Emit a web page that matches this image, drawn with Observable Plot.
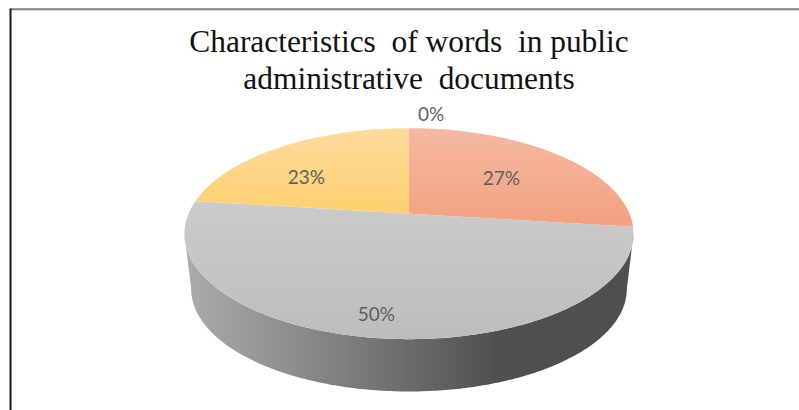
<!DOCTYPE html>
<html>
<head>
<meta charset="utf-8">
<style>html,body{margin:0;padding:0;background:#fff}svg{display:block}</style>
<script src="https://cdn.jsdelivr.net/npm/d3@7"></script>
<script src="https://cdn.jsdelivr.net/npm/@observablehq/plot@0.6"></script>
</head>
<body>
<script>
// Word characteristics, share of each group in percent (clockwise from twelve o'clock)
const groups = ["Group A", "Group B", "Group C", "Group D"];
const shares = [27, 50, 23, 0];
const shareLabels = ["27%", "50%", "23%", "0%"];
const titleLines = ["Characteristics  of words  in public", "administrative  documents"];

// Perspective tilt of the disc and its thickness
const tilt = 0.1896;
const radiusX = 0.982, radiusY = 0.964;
const discShiftY = 0.19;
const wallDrop = 0.526, wallShrink = 0.97;

// Projects a point of the disc (angle clockwise from top, radius 0..1) to pie coordinates
function project(angle, r = 1) {
  const w = 1 + tilt * r * Math.cos(angle);
  return {
    x: radiusX * r * Math.sin(angle) / w,
    y: discShiftY + radiusY * r * Math.cos(angle) / w
  };
}

const pieAngles = d3.pie().sort(null).value((d) => d)(shares);
function sliceOutline(i) {
  const {startAngle: a0, endAngle: a1} = pieAngles[i];
  const n = Math.max(2, Math.ceil((a1 - a0) * 60));
  return [project(0, 0), ...d3.range(n + 1).map((k) => project(a0 + (a1 - a0) * k / n))];
}

// Side wall: front rim of the disc joined to the front rim of the lower disc,
// between the two points where the outline is widest
const widest = Math.acos(-tilt);
const rimPhase = d3.range(0, 241).map((k) => widest + (2 * Math.PI - 2 * widest) * k / 240);
const rimTop = rimPhase.map((a) => project(a));
const rimBottom = rimPhase.map((a) => {
  const p = project(a);
  return {x: p.x * wallShrink, y: p.y * wallShrink - wallDrop};
}).reverse();
const wall = [...rimTop, ...rimBottom];

// Gradient definitions used by the slices and the wall
const gradients = () => {
  const defs = d3.create("svg:defs");
  const add = (id, [x2, y2], stops) => {
    const g = defs.append("linearGradient").attr("id", id)
      .attr("x1", 0).attr("y1", 0).attr("x2", x2).attr("y2", y2);
    for (const [o, c] of stops) g.append("stop").attr("offset", o).attr("stop-color", c);
  };
  add("sliceOrange", [0, 1], [[0, "#f4b9a3"], [1, "#f3a17f"]]);
  add("sliceGrey", [0, 1], [[0, "#cbcbcb"], [1, "#bdbdbd"]]);
  add("sliceYellow", [0, 1], [[0, "#fcdb9d"], [1, "#fdd06f"]]);
  add("wallShade", [1, 0], [[0, "#acacac"], [0.35, "#7f7f7f"], [0.7, "#4f4f4f"], [1, "#4f4f4f"]]);
  return defs.node();
};
const sliceFills = ["url(#sliceOrange)", "url(#sliceGrey)", "url(#sliceYellow)", "#a5a5a5"];

const labelRadius = [0.6, 0.6, 0.6, 1.15];
const labelNudge = [[0, 3], [-14, 33], [-22, 6], [22, -3]];

const plot = Plot.plot({
  width: 799,
  height: 410,
  margin: 0,
  x: {domain: [-1, 1], range: [184, 633], axis: null},
  y: {domain: [-1, 1], range: [338.7, 127.7], axis: null},
  marks: [
    gradients,
    Plot.ruleY([0], {x1: -1.775, x2: 1.78, y: () => 2.128, stroke: "#808080", strokeWidth: 2}),
    Plot.ruleX([0], {x: () => -1.775, y1: 2.13, y2: -1.7, stroke: "#1a1a1a", strokeWidth: 2}),
    Plot.line(wall, {x: "x", y: "y", fill: "url(#wallShade)", stroke: "none"}),
    ...groups.map((g, i) => shares[i] > 0
      ? Plot.line(sliceOutline(i), {x: "x", y: "y", fill: sliceFills[i], stroke: "none"})
      : null),
    ...groups.map((g, i) => {
      const mid = (pieAngles[i].startAngle + pieAngles[i].endAngle) / 2;
      return Plot.text([project(i === 3 ? 0 : mid, labelRadius[i])], {
        x: "x", y: "y", text: () => shareLabels[i],
        dx: labelNudge[i][0], dy: labelNudge[i][1],
        fontFamily: "Lato", fontSize: 19, fill: "#5f5f5f"
      });
    }),
    Plot.text(titleLines, {
      x: () => 0,
      y: (d, i) => [1.82, 1.47][i],
      text: (d) => d,
      fontFamily: "Liberation Serif", fontSize: 31.4, fill: "#111"
    })
  ]
});
document.body.append(plot);
</script>
</body>
</html>
